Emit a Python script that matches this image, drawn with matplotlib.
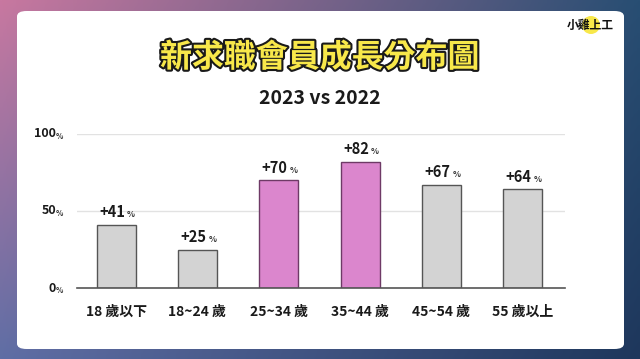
import numpy as np
import matplotlib
matplotlib.use('Agg')
import matplotlib.pyplot as plt
import matplotlib.patheffects as pe
from matplotlib.patches import FancyBboxPatch, Ellipse

plt.rcParams['font.family'] = ['Noto Sans CJK TC', 'DejaVu Sans']

# data
groups = ['18 歲以下', '18~24 歲', '25~34 歲', '35~44 歲', '45~54 歲', '55 歲以上']
growth = [41, 25, 70, 82, 67, 64]
highlight = [False, False, True, True, False, False]
yticks = [0, 50, 100]

title = '新求職會員成長分布圖'
subtitle = '2023 vs 2022'

fig = plt.figure(figsize=(6.4, 3.59), dpi=100)
W, H = 640, 359

# gradient background
bg = fig.add_axes([0, 0, 1, 1], zorder=0)
bg.set_axis_off()
tl = np.array([200, 120, 160]) / 255
tr = np.array([40, 78, 115]) / 255
bl = np.array([95, 110, 165]) / 255
br = np.array([30, 55, 92]) / 255
u = np.linspace(0, 1, 200)[None, :, None]
v = np.linspace(0, 1, 120)[:, None, None]
img = (1 - v) * ((1 - u) * tl + u * tr) + v * ((1 - u) * bl + u * br)
bg.imshow(img, aspect='auto', extent=[0, 1, 0, 1], origin='upper')
bg.set_xlim(0, 1)
bg.set_ylim(0, 1)

# white card
card = FancyBboxPatch((17 / W, (H - 349) / H), (624 - 17) / W, (349 - 11) / H,
                      boxstyle='round,pad=0,rounding_size=0.015',
                      transform=bg.transAxes, facecolor='white',
                      edgecolor='none', zorder=2)
bg.add_patch(card)

# title
fig.text(0.5, 1 - 58 / H, title, ha='center', va='center', fontsize=23,
         fontweight='bold', color='#f8e84a',
         path_effects=[pe.withStroke(linewidth=3, foreground='#1a1a1a')])
fig.text(0.5, 1 - 98 / H, subtitle, ha='center', va='center', fontsize=14,
         fontweight='bold', color='#1a1a1a')

# logo
bg.add_patch(Ellipse((591 / W, 1 - 25 / H), 18 / W, 18 / H,
                     transform=bg.transAxes, facecolor='#f8e84a',
                     edgecolor='none', zorder=3))
fig.text(590 / W, 1 - 25 / H, '小雞上工', ha='center', va='center', fontsize=8.5,
         fontweight='heavy', color='#111111', style='italic')

# chart
ax = fig.add_axes([77 / W, 71 / H, (565 - 77) / W, (225 - 71) / H], zorder=5)
ax.patch.set_alpha(0)
x = np.arange(len(groups))
colors = ['#db86cd' if h else '#d3d3d3' for h in highlight]
edges = ['#6e3a66' if h else '#555555' for h in highlight]
ax.bar(x, growth, width=0.48, color=colors, edgecolor=edges, linewidth=1, zorder=3)
ax.set_xlim(-0.48, 5.52)
ax.set_ylim(0, 100)

for yv in yticks[1:]:
    ax.axhline(yv, color='#e2e2e2', linewidth=1, zorder=1)
ax.axhline(0, color='#555555', linewidth=1.2, zorder=4, clip_on=False)

for s in ax.spines.values():
    s.set_visible(False)
ax.set_yticks([])
ax.set_xticks(x)
ax.set_xticklabels(groups, fontsize=10, fontweight='bold', color='#1a1a1a')
ax.tick_params(axis='x', length=0, pad=12)

# y labels with small %
for yv in yticks:
    t = ax.annotate(str(yv), xy=(0, yv), xycoords=('axes fraction', 'data'),
                    xytext=(-15, 0), textcoords='offset points', ha='right',
                    va='center', fontsize=9, fontweight='bold', color='#1a1a1a')
    ax.annotate('%', xy=(1, 0.3), xycoords=t, ha='left', va='center',
                fontsize=5.5, fontweight='bold', color='#333333')

# value labels
for xi, val in zip(x, growth):
    t = ax.annotate('+%d' % val, xy=(xi, val), xytext=(-3, 9),
                    textcoords='offset points', ha='center', va='center',
                    fontsize=10.5, fontweight='bold', color='#1a1a1a')
    ax.annotate('%', xy=(1, 0.35), xycoords=t, xytext=(1.5, 0),
                textcoords='offset points', ha='left', va='center',
                fontsize=6, fontweight='bold', color='#333333')

fig.savefig('out.png', dpi=100)
